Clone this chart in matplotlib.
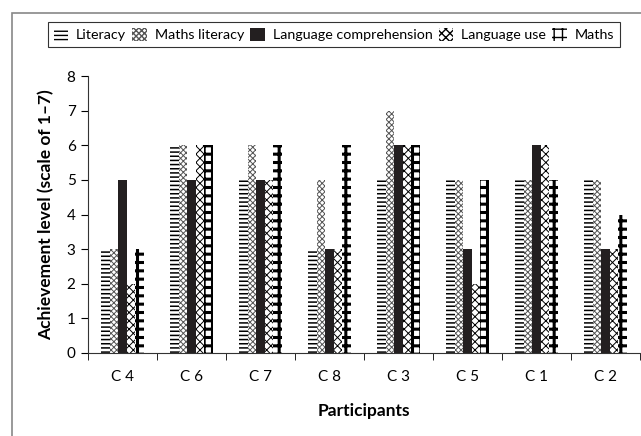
import numpy as np
import matplotlib as mpl
import matplotlib.pyplot as plt
from matplotlib.patches import Rectangle

plt.rcParams['font.family'] = ['Lato', 'DejaVu Sans']

participants = ["C 4", "C 6", "C 7", "C 8", "C 3", "C 5", "C 1", "C 2"]
series_names = ["Literacy", "Maths literacy", "Language comprehension",
                "Language use", "Maths"]
literacy = [3, 6, 5, 3, 5, 5, 5, 5]
maths_literacy = [3, 6, 6, 5, 7, 5, 5, 5]
language_comprehension = [5, 5, 5, 3, 6, 3, 6, 3]
language_use = [2, 6, 5, 3, 6, 2, 6, 3]
maths = [3, 6, 6, 6, 6, 5, 5, 4]

values = [literacy, maths_literacy, language_comprehension, language_use, maths]
# (facecolor, hatch colour, hatch, hatch linewidth)
styles = [
    ("white", "black", "----", 1.1),
    ("white", "#555555", "xxxxxx", 0.7),
    ("#231f20", "#231f20", None, 1.0),
    ("white", "black", "xxxx", 0.7),
    ("white", "black", "++", 2.2),
]

fig = plt.figure(figsize=(6.41, 4.36), dpi=100)
ax = fig.add_axes([88 / 641, 1 - 353 / 436, (640 - 88) / 641, (353 - 76) / 436])

x = np.arange(len(participants))
width = 0.125
for i, (vals, name, st) in enumerate(zip(values, series_names, styles)):
    face, hc, hatch, hlw = st
    with mpl.rc_context({'hatch.linewidth': hlw}):
        ax.bar(x + (i - 2) * width, vals, width, color=face, edgecolor=hc,
               hatch=hatch, linewidth=0, label=name)

ax.set_xlim(-0.5, len(participants) - 0.5)
ax.set_ylim(0, 8)
ax.set_yticks(range(9))
ax.set_xticks(x)
ax.set_xticklabels(participants)
ax.set_xticks(np.arange(-0.5, len(participants)), minor=True)
ax.tick_params(axis='x', which='major', length=0, pad=12, labelsize=11)
ax.tick_params(axis='x', which='minor', length=5, direction='out')
ax.tick_params(axis='y', length=5, labelsize=11, pad=4)
for s in ['top', 'right']:
    ax.spines[s].set_visible(False)
ax.spines['left'].set_color('#333333')
ax.spines['bottom'].set_color('#333333')

ax.set_ylabel("Achievement level (scale of 1\u20137)", fontsize=12.5,
              fontweight='bold', labelpad=9)
ax.set_xlabel("Participants", fontsize=12.5, fontweight='bold', labelpad=14)

leg = fig.legend(loc='upper left', bbox_to_anchor=(48 / 641, 1 - 22 / 436),
                 ncols=5, frameon=True, fancybox=False, fontsize=10.3,
                 handlelength=1.0, handleheight=1.0, handletextpad=0.55,
                 columnspacing=0.45, borderpad=0.4, borderaxespad=0)
leg.get_frame().set_edgecolor('black')
leg.get_frame().set_linewidth(0.8)

fig.patches.append(Rectangle((12 / 641, -0.1), 1.2, 1 - 13 / 436 + 0.1,
                             transform=fig.transFigure, fill=False,
                             edgecolor='#888888', linewidth=1.2))

fig.savefig("out.png", dpi=100)
